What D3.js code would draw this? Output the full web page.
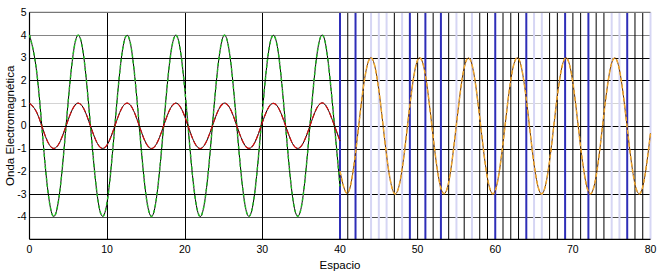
<!DOCTYPE html>
<html>
<head>
<meta charset="utf-8">
<script src="https://cdn.jsdelivr.net/npm/d3@7"></script>
<style>
	body { margin: 0; background: #fff; }
	text { font-family: "Liberation Sans", Arial, sans-serif; fill: #000; }
</style>
</head>
<body>
<svg id="chart" width="659" height="276"></svg>
<script>
// Espacio samples (x) for the two halves of the figure
var espacioIzq = [0, 1, 2, 3, 4, 5, 6, 7, 8, 9, 10, 11, 12, 13, 14, 15, 16, 17, 18, 19, 20,
	21, 22, 23, 24, 25, 26, 27, 28, 29, 30, 31, 32, 33, 34, 35, 36, 37, 38, 39, 40];
var espacioDer = [40, 41, 42, 43, 44, 45, 46, 47, 48, 49, 50, 51, 52, 53, 54, 55, 56, 57, 58, 59, 60,
	61, 62, 63, 64, 65, 66, 67, 68, 69, 70, 71, 72, 73, 74, 75, 76, 77, 78, 79, 80];

// wave values
var ondaVerde = [4.00, 2.16, -1.66, -3.96, -2.61, 1.13, 3.84, 3.02, -0.58, -3.64, -3.36,
	0.02, 3.38, 3.63, 0.55, -3.04, -3.83, -1.10, 2.64, 3.95, 1.63,
	-2.19, -4.00, -2.13, 1.70, 3.96, 2.59, -1.17, -3.85, -2.99, 0.62,
	3.66, 3.34, -0.05, -3.39, -3.61, -0.51, 3.06, 3.82, 1.07, -2.67];
var ondaRoja = [1.00, 0.54, -0.42, -0.99, -0.65, 0.28, 0.96, 0.75, -0.15, -0.91, -0.84,
	0.00, 0.84, 0.91, 0.14, -0.76, -0.96, -0.28, 0.66, 0.99, 0.41,
	-0.55, -1.00, -0.53, 0.42, 0.99, 0.65, -0.29, -0.96, -0.75, 0.15,
	0.91, 0.83, -0.01, -0.85, -0.90, -0.13, 0.77, 0.96, 0.27, -0.67];
var ondaNaranja = [-2.00, -2.96, -1.20, 1.67, 3.00, 1.58, -1.30, -2.98, -1.92, 0.90, 2.90,
	2.23, -0.49, -2.75, -2.49, 0.07, 2.56, 2.70, 0.36, -2.31, -2.86,
	-0.77, 2.02, 2.96, 1.18, -1.69, -3.00, -1.55, 1.32, 2.98, 1.90,
	-0.93, -2.90, -2.21, 0.52, 2.77, 2.47, -0.09, -2.57, -2.69, -0.33];

var xTicks = [0, 10, 20, 30, 40, 50, 60, 70, 80];
var yTicks = [5, 4, 3, 2, 1, 0, -1, -2, -3, -4];
var yGrid = [4, 3, 2, 1, 0, -1, -2, -3, -4];

// colour of each grid line (k black, g grey, l light grey / b blue, c pale blue)
var yGridTone = { "4": "g", "3": "k", "2": "k", "1": "l", "0": "k", "-1": "k", "-2": "g", "-3": "k", "-4": "d" };
var xGridIzq = [10, 20, 30];
var xGridDerTone = ["b", "k", "b", "k", "c", "c", "c", "k", "c", "b", "k",
	"b", "k", "b", "k", "c", "k", "c", "k", "k", "b",
	"k", "k", "k", "b", "c", "c", "k", "k", "b", "k",
	"k", "b", "k", "k", "c", "c", "b", "k", "k", "c"];

function Chart(context)
{
	this.svg = context;
	this.x = d3.scaleLinear()
				.domain([0, 80])
				.range([29.5, 650.5]);
	this.y = d3.scaleLinear()
				.domain([-5, 5])
				.range([239.3, 12.3]);
	this.tones = {
		k: { c: "#000", w: 1 },
		g: { c: "#858585", w: 1.2 },
		d: { c: "#4a4a4a", w: 1.2 },
		l: { c: "#d4d4d4", w: 1 },
		b: { c: "#2e2eb8", w: 2 },
		c: { c: "#d6d6f4", w: 2 }
	};
}

Chart.prototype.DrawGrid = function()
{
	var _this = this;
	var g = this.svg.append("g");
	var x0 = this.x(0), x1 = this.x(80);
	var top = this.y(5), bot = this.y(-5);

	g.selectAll("line.h").data(yGrid).enter()
		.append("line")
			.attr("x1", x0).attr("x2", x1)
			.attr("y1", function(d) { return Math.round(_this.y(d)) + 0.5; })
			.attr("y2", function(d) { return Math.round(_this.y(d)) + 0.5; })
			.style("stroke", function(d) { return _this.tones[yGridTone[d]].c; })
			.style("stroke-width", function(d) { return _this.tones[yGridTone[d]].w; });

	g.selectAll("line.vi").data(xGridIzq).enter()
		.append("line")
			.attr("x1", function(d) { return Math.round(_this.x(d)) + 0.5; })
			.attr("x2", function(d) { return Math.round(_this.x(d)) + 0.5; })
			.attr("y1", top).attr("y2", bot)
			.style("stroke", "#000")
			.style("stroke-width", 1);

	g.selectAll("line.vd").data(espacioDer).enter()
		.append("line")
			.attr("x1", function(d) { return _this.x(d); })
			.attr("x2", function(d) { return _this.x(d); })
			.attr("y1", top).attr("y2", bot)
			.style("stroke", function(d, i) { return _this.tones[xGridDerTone[i]].c; })
			.style("stroke-width", function(d, i) { return _this.tones[xGridDerTone[i]].w; });

	// frame
	g.append("line").attr("x1", x0).attr("x2", x1).attr("y1", top).attr("y2", top)
		.style("stroke", "#777").style("stroke-width", 1.2);
	g.append("line").attr("x1", x0).attr("x2", x1).attr("y1", bot).attr("y2", bot)
		.style("stroke", "#000").style("stroke-width", 1.2);
	g.append("line").attr("x1", x0).attr("x2", x0).attr("y1", top).attr("y2", bot)
		.style("stroke", "#000").style("stroke-width", 1.2);
}

Chart.prototype.DrawWave = function(xs, ys, base, colour, width, dash)
{
	var _this = this;
	var pts = xs.map(function(d, i) { return [d, ys[i]]; });
	var line = d3.line()
				.x(function(d) { return _this.x(d[0]); })
				.y(function(d) { return _this.y(d[1]); })
				.curve(d3.curveNatural);

	this.svg.append("path")
		.attr("d", line(pts))
		.style("fill", "none")
		.style("stroke", base)
		.style("stroke-width", 1);
	this.svg.append("path")
		.attr("d", line(pts))
		.style("fill", "none")
		.style("stroke", colour)
		.style("stroke-width", width)
		.style("stroke-dasharray", dash);
}

Chart.prototype.DrawAxes = function()
{
	var _this = this;
	var g = this.svg.append("g").style("font-size", "10.5px");

	g.selectAll("text.xt").data(xTicks).enter()
		.append("text")
			.attr("x", function(d) { return _this.x(d); })
			.attr("y", 253)
			.attr("text-anchor", "middle")
			.text(function(d) { return d; });

	g.selectAll("text.yt").data(yTicks).enter()
		.append("text")
			.attr("x", 26.5)
			.attr("y", function(d) { return _this.y(d) + 3.6; })
			.attr("text-anchor", "end")
			.text(function(d) { return d; });

	this.svg.append("text")
		.attr("x", this.x(40))
		.attr("y", 268.5)
		.attr("text-anchor", "middle")
		.style("font-size", "11.5px")
		.text("Espacio");

	this.svg.append("text")
		.attr("transform", "translate(13.5," + this.y(0) + ") rotate(-90)")
		.attr("text-anchor", "middle")
		.style("font-size", "11.5px")
		.text("Onda Electromagnética");
}

var chart = new Chart(d3.select("#chart"));
chart.DrawGrid();
chart.DrawWave(espacioIzq, ondaVerde, "#000", "#22bb22", 1.5, "3,3");
chart.DrawWave(espacioIzq, ondaRoja, "#000", "#cc1010", 1.2, "6,2");
chart.DrawWave(espacioDer, ondaNaranja, "#6a3000", "#f0a830", 1.5, "4,2.5");
chart.DrawAxes();
</script>
</body>
</html>
